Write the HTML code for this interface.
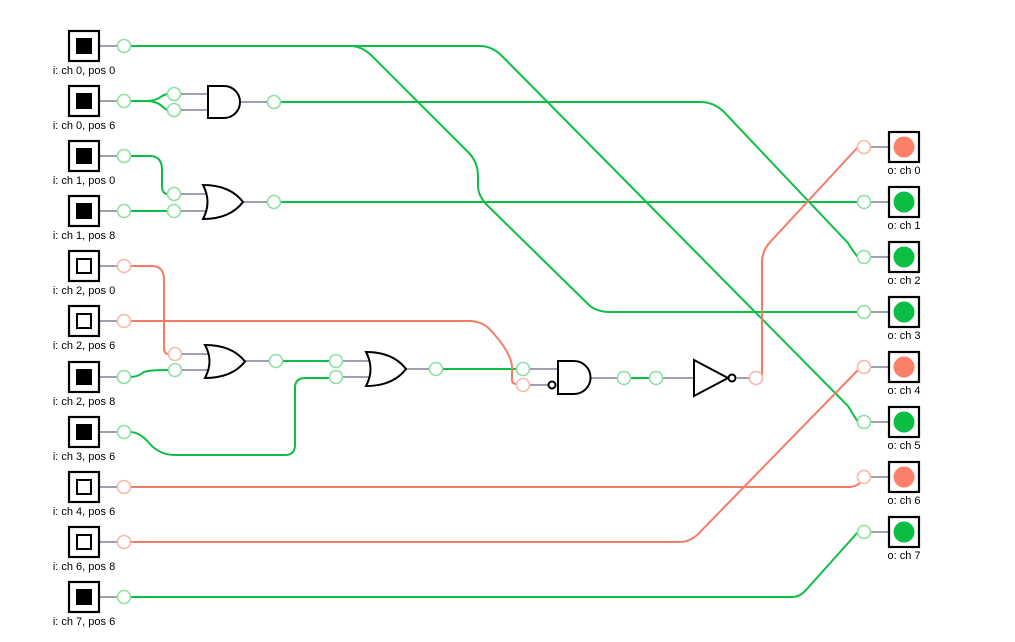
<!DOCTYPE html>
<html><head><style>
html,body{margin:0;padding:0;background:#fff;}
svg{display:block;font-family:"Liberation Sans",sans-serif;}
</style></head><body>
<svg width="1015" height="642" viewBox="0 0 1015 642" xmlns="http://www.w3.org/2000/svg">
<g fill="none" stroke-width="2">
<g stroke="#0cbf44">
<path d="M130,46 H350 Q362,46 372,56 L468,152 Q478,162 478,176 V186 Q478,196 488,206 L590,306 Q598,312 610,312 H858"/>
<path d="M350,46 H480 Q492,46 502,56 L848,406 Q854,416 858,422"/>
<path d="M130,101 H146 Q156,101 162,96 Q166,94 168,94"/>
<path d="M146,101 Q156,101 162,106 Q166,110 168,110"/>
<path d="M280,102 H700 Q714,102 724,112 L848,243 Q854,253 858,257"/>
<path d="M130,156 H150 Q162,156 162,170 V186 Q162,194 168,194"/>
<path d="M130,211 H160 Q166,211 168,211"/>
<path d="M280,202 H858"/>
<path d="M130,377 Q138,377 144,372 Q150,370 168,370"/>
<path d="M282,361 H330"/>
<path d="M130,432 Q140,432 150,444 Q160,455 175,455 H285 Q295,455 295,445 V388 Q295,378 305,378 H330"/>
<path d="M442,369 H517"/>
<path d="M630,378 H650"/>
<path d="M130,597 H792 Q800,597 806,590 L858,532"/>
</g>
<g stroke="#f47c68">
<path d="M130,266 H152 Q164,266 164,280 V348 Q164,354 169,354"/>
<path d="M130,321 H470 Q484,321 494,334 Q510,352 512,366 V380 Q512,384 517,384"/>
<path d="M762,378 V262 Q762,250 772,240 L858,147"/>
<path d="M130,487 H848 Q858,487 862,480"/>
<path d="M130,542 H680 Q692,542 702,530 L858,370"/>
</g>
<g stroke="#a0a0ac">
<path d="M99,46H118 M99,101H118 M99,156H118 M99,211H118 M99,266H118 M99,321H118 M99,377H118 M99,432H118 M99,487H118 M99,542H118 M99,597H118"/>
<path d="M870,147H889 M870,202H889 M870,257H889 M870,312H889 M870,367H889 M870,422H889 M870,477H889 M870,532H889"/>
<path d="M180,94H208 M180,110H208 M240,102H268"/>
<path d="M180,194H207 M180,211H207 M243,202H268"/>
<path d="M181,354H210 M181,370H210 M245,361H270"/>
<path d="M342,361H370 M342,377H370 M405,369H430"/>
<path d="M529,369H558 M529,385H548 M591,378H618"/>
<path d="M662,378H694 M737,378H750"/>
</g>
<g stroke="#000" fill="#fff">
<path d="M208,86 h16 a16,16 0 0 1 0,32 h-16 z"/>
<path d="M203,185 q9,17 0,34 q27,0 40,-17 q-13,-17 -40,-17 z"/>
<path d="M205,345 q9,16 0,33 q27,0 40,-16.5 q-13,-16.5 -40,-16.5 z"/>
<path d="M366,352 q9,17 0,34 q27,0 40,-17 q-13,-17 -40,-17 z"/>
<path d="M558,361 h16 a16.5,16.5 0 0 1 0,33 h-16 z"/>
<circle cx="552" cy="385" r="3.5"/>
<path d="M694,360 L728,378 L694,396 z"/>
<circle cx="732" cy="378" r="3.5"/>
</g>
<g fill="#fff" stroke="#8ee0a2" stroke-width="1.6">
<circle cx="124" cy="46" r="6.5"/><circle cx="124" cy="101" r="6.5"/><circle cx="124" cy="156" r="6.5"/><circle cx="124" cy="211" r="6.5"/>
<circle cx="124" cy="377" r="6.5"/><circle cx="124" cy="432" r="6.5"/><circle cx="124" cy="597" r="6.5"/>
<circle cx="174" cy="94" r="6.5"/><circle cx="174" cy="110" r="6.5"/><circle cx="274" cy="102" r="6.5"/>
<circle cx="174" cy="194" r="6.5"/><circle cx="174" cy="211" r="6.5"/><circle cx="274" cy="202" r="6.5"/>
<circle cx="175" cy="370" r="6.5"/><circle cx="276" cy="361" r="6.5"/>
<circle cx="336" cy="361" r="6.5"/><circle cx="336" cy="377" r="6.5"/><circle cx="436" cy="369" r="6.5"/>
<circle cx="523" cy="369" r="6.5"/><circle cx="624" cy="378" r="6.5"/><circle cx="656" cy="378" r="6.5"/>
<circle cx="864" cy="202" r="6.5"/><circle cx="864" cy="257" r="6.5"/><circle cx="864" cy="312" r="6.5"/><circle cx="864" cy="422" r="6.5"/><circle cx="864" cy="532" r="6.5"/>
</g>
<g fill="#fff" stroke="#f8b8aa" stroke-width="1.6">
<circle cx="124" cy="266" r="6.5"/><circle cx="124" cy="321" r="6.5"/><circle cx="124" cy="487" r="6.5"/><circle cx="124" cy="542" r="6.5"/>
<circle cx="175" cy="354" r="6.5"/><circle cx="523" cy="385" r="6.5"/><circle cx="756" cy="378" r="6.5"/>
<circle cx="864" cy="147" r="6.5"/><circle cx="864" cy="367" r="6.5"/><circle cx="864" cy="477" r="6.5"/>
</g>
<g stroke="#000" stroke-width="2.2">
<rect x="69" y="31" width="30" height="30"/><rect x="69" y="86" width="30" height="30"/><rect x="69" y="141" width="30" height="30"/><rect x="69" y="196" width="30" height="30"/>
<rect x="69" y="251" width="30" height="30"/><rect x="69" y="306" width="30" height="30"/><rect x="69" y="362" width="30" height="30"/><rect x="69" y="417" width="30" height="30"/>
<rect x="69" y="472" width="30" height="30"/><rect x="69" y="527" width="30" height="30"/><rect x="69" y="582" width="30" height="30"/>
<rect x="889" y="132" width="30" height="30"/><rect x="889" y="187" width="30" height="30"/><rect x="889" y="242" width="30" height="30"/><rect x="889" y="297" width="30" height="30"/>
<rect x="889" y="352" width="30" height="30"/><rect x="889" y="407" width="30" height="30"/><rect x="889" y="462" width="30" height="30"/><rect x="889" y="517" width="30" height="30"/>
</g>
<g fill="#000" stroke="none">
<rect x="76" y="38" width="16" height="16"/><rect x="76" y="93" width="16" height="16"/><rect x="76" y="148" width="16" height="16"/><rect x="76" y="203" width="16" height="16"/>
<rect x="76" y="369" width="16" height="16"/><rect x="76" y="424" width="16" height="16"/><rect x="76" y="589" width="16" height="16"/>
</g>
<g stroke="#000" stroke-width="2">
<rect x="77" y="259" width="14" height="14"/><rect x="77" y="314" width="14" height="14"/><rect x="77" y="480" width="14" height="14"/><rect x="77" y="535" width="14" height="14"/>
</g>
<g stroke="none">
<circle cx="904" cy="147" r="10.5" fill="#fa8069"/><circle cx="904" cy="202" r="10.5" fill="#0cbf44"/><circle cx="904" cy="257" r="10.5" fill="#0cbf44"/><circle cx="904" cy="312" r="10.5" fill="#0cbf44"/>
<circle cx="904" cy="367" r="10.5" fill="#fa8069"/><circle cx="904" cy="422" r="10.5" fill="#0cbf44"/><circle cx="904" cy="477" r="10.5" fill="#fa8069"/><circle cx="904" cy="532" r="10.5" fill="#0cbf44"/>
</g>
</g>
<g font-size="11" fill="#000" text-anchor="middle">
<text x="84" y="74">i: ch 0, pos 0</text><text x="84" y="129">i: ch 0, pos 6</text><text x="84" y="184">i: ch 1, pos 0</text><text x="84" y="239">i: ch 1, pos 8</text>
<text x="84" y="294">i: ch 2, pos 0</text><text x="84" y="349">i: ch 2, pos 6</text><text x="84" y="405">i: ch 2, pos 8</text><text x="84" y="460">i: ch 3, pos 6</text>
<text x="84" y="515">i: ch 4, pos 6</text><text x="84" y="570">i: ch 6, pos 8</text><text x="84" y="625">i: ch 7, pos 6</text>
<text x="904" y="174">o: ch 0</text><text x="904" y="229">o: ch 1</text><text x="904" y="284">o: ch 2</text><text x="904" y="339">o: ch 3</text>
<text x="904" y="394">o: ch 4</text><text x="904" y="449">o: ch 5</text><text x="904" y="504">o: ch 6</text><text x="904" y="559">o: ch 7</text>
</g>
</svg>
</body></html>
